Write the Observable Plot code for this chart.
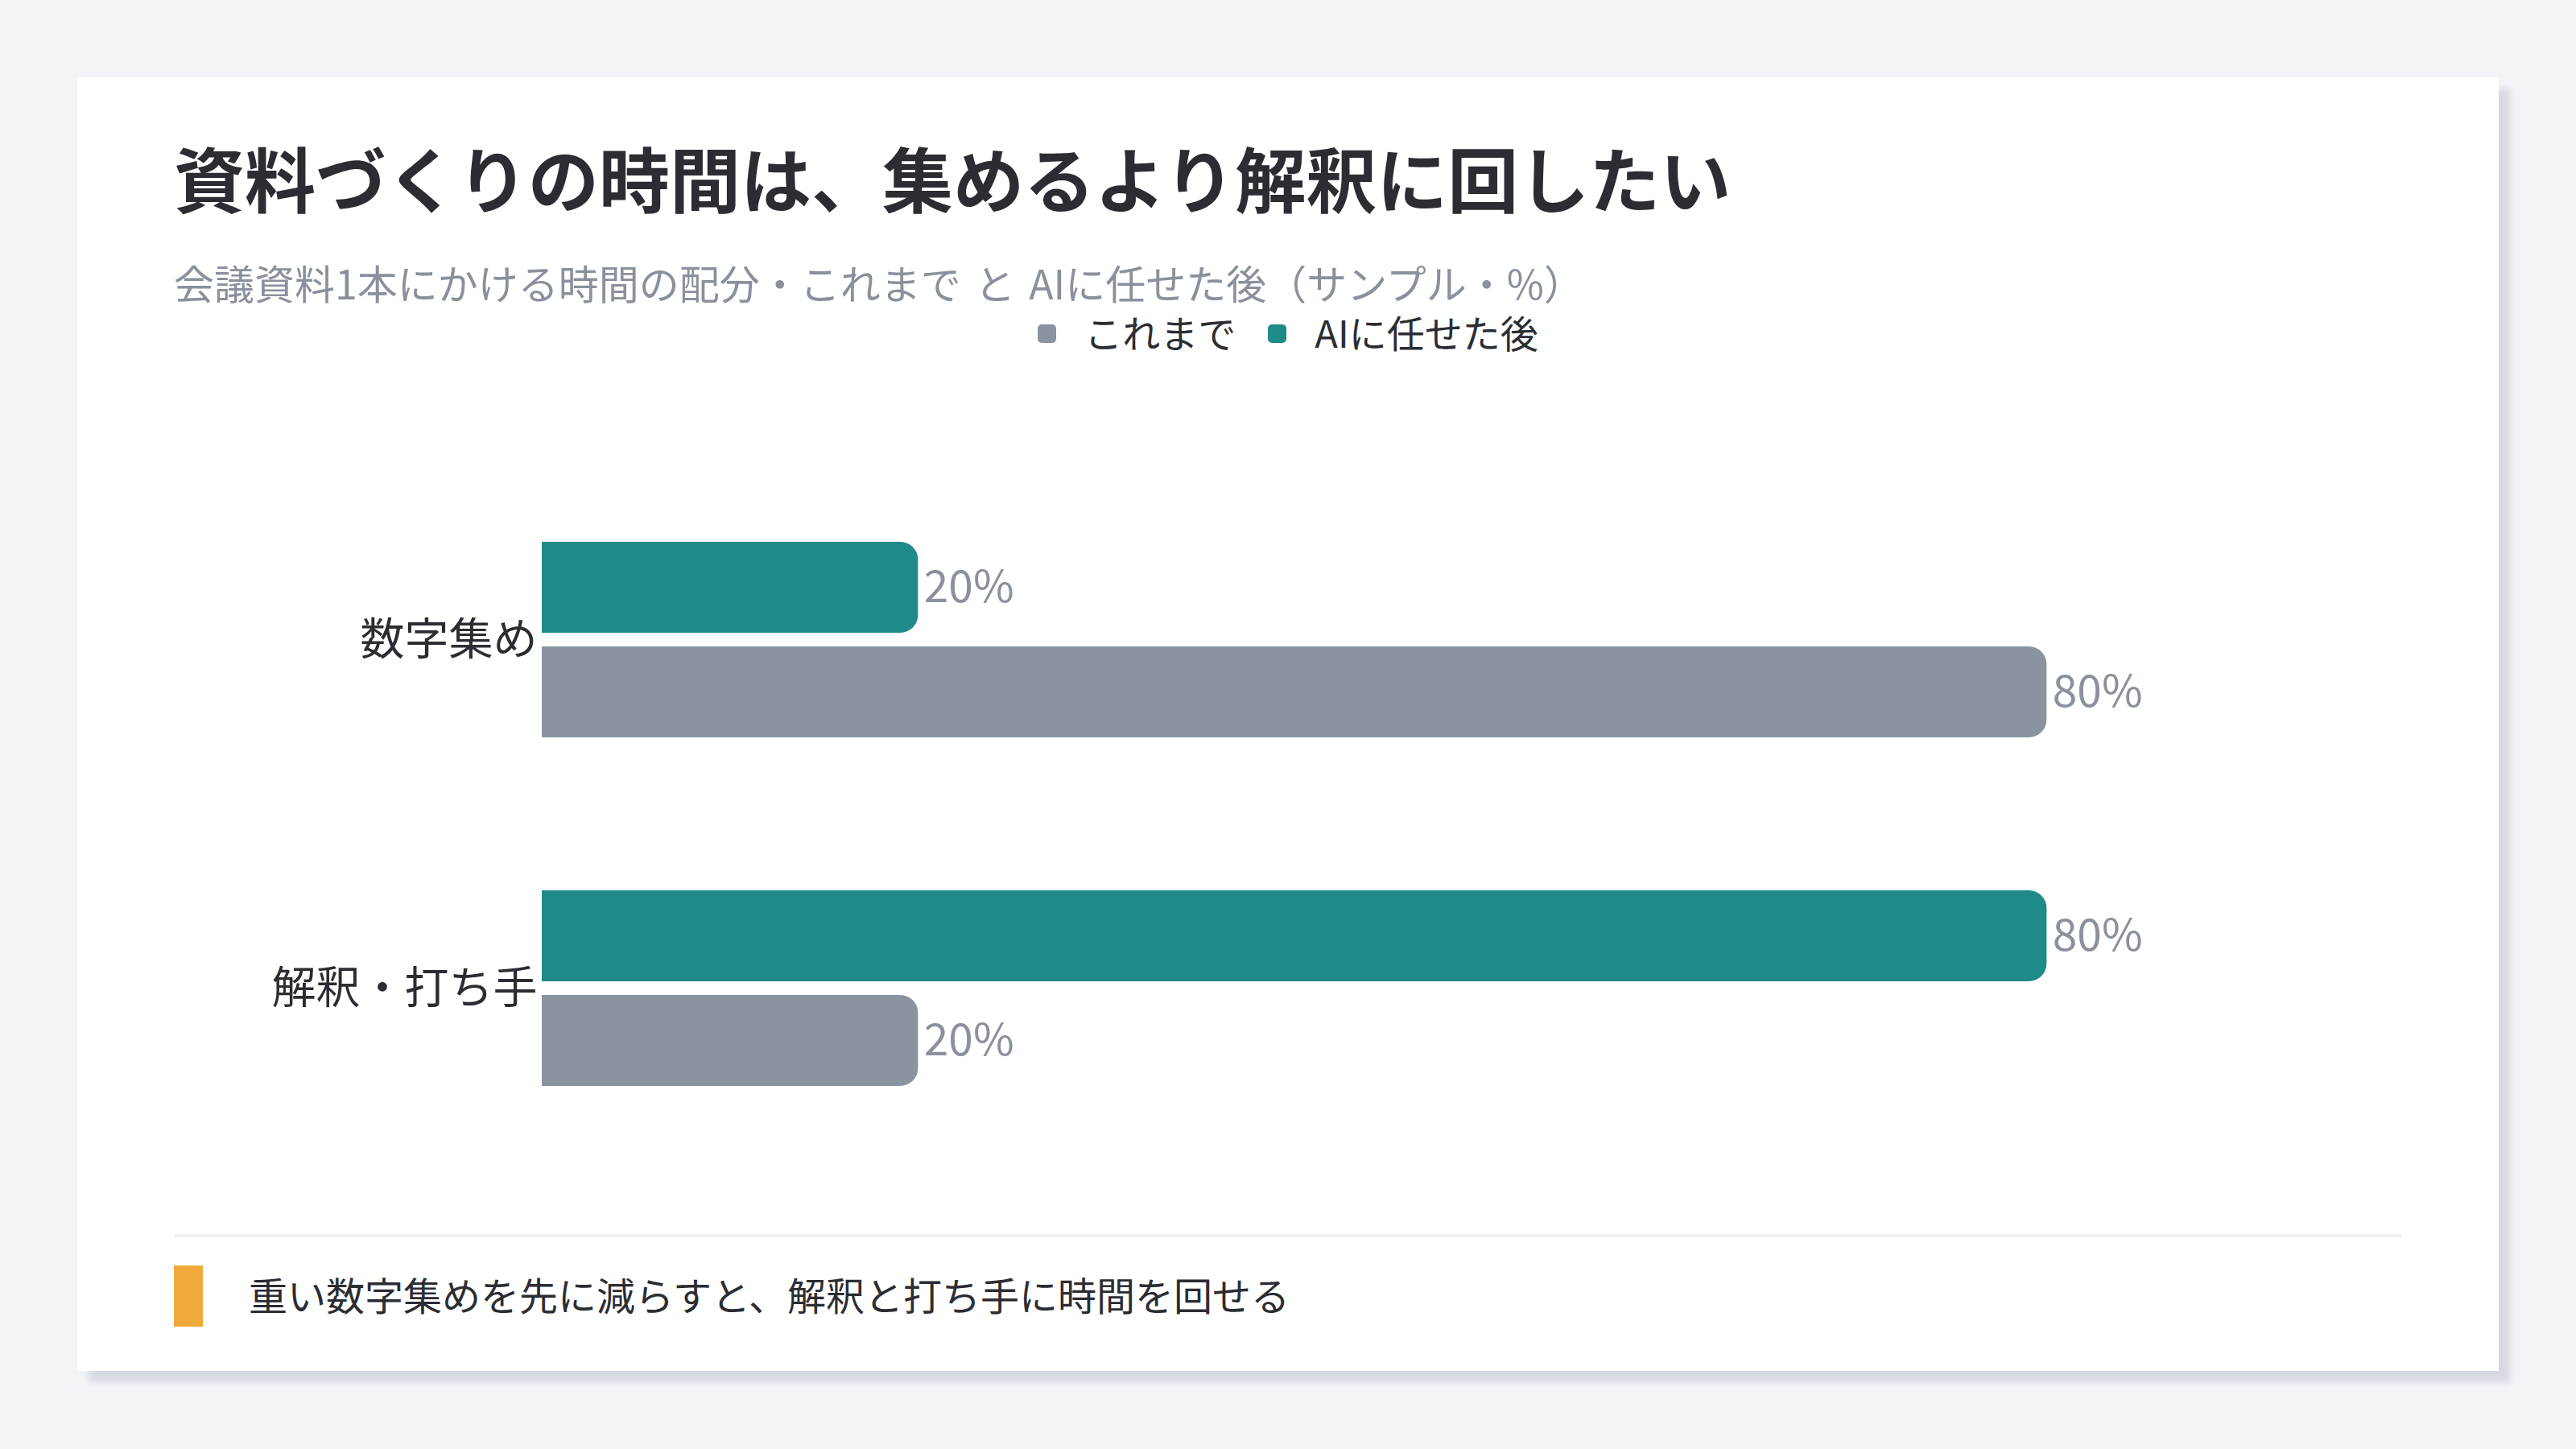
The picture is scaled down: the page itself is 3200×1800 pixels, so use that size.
<!DOCTYPE html>
<html><head><meta charset="utf-8">
<script src="https://cdn.jsdelivr.net/npm/d3@7"></script>
<script src="https://cdn.jsdelivr.net/npm/@observablehq/plot@0.6"></script>
<style>
html,body{margin:0;padding:0;background:#f3f4f8;}
body{width:3200px;height:1800px;position:relative;font-family:"Noto Sans CJK JP","Noto Sans",sans-serif;overflow:hidden;}
#card{position:absolute;left:96px;top:96px;width:3008px;height:1607px;background:#fff;box-shadow:14px 14px 8px rgba(170,177,192,0.4);}
.abs{position:absolute;left:120px;}
#title{top:73px;font-size:88px;font-weight:700;line-height:100px;color:#2b2d33;white-space:nowrap;}
#subtitle{top:224px;font-size:50px;line-height:60px;color:#8a919c;white-space:nowrap;word-spacing:6px;}
#legend{top:288px;width:2768px;display:flex;justify-content:center;align-items:center;font-size:47px;line-height:56px;color:#2b2d33;}
.sw{width:23px;height:23px;border-radius:5px;margin-right:35px;position:relative;top:2px;}
.item{display:flex;align-items:center;margin:0 20px;}
#chart{top:364px;width:2768px;height:1040px;}
#divider{top:1437px;width:2768px;height:4px;background:#eef0f3;}
#mark{top:1476px;width:36px;height:76px;background:#f0a93b;}
#note{top:1481px;left:213px;font-size:48px;line-height:60px;color:#2b2d33;white-space:nowrap;}
</style></head>
<body>
<div id="card">
  <div id="title" class="abs"></div>
  <div id="subtitle" class="abs"></div>
  <div id="legend" class="abs"></div>
  <div id="chart" class="abs"></div>
  <div id="divider" class="abs"></div>
  <div id="mark" class="abs"></div>
  <div id="note" class="abs"></div>
</div>
<script>
const titleText = "資料づくりの時間は、集めるより解釈に回したい";
const subtitleText = "会議資料1本にかける時間の配分・これまで と AIに任せた後（サンプル・%）";
const noteText = "重い数字集めを先に減らすと、解釈と打ち手に時間を回せる";
const categories = ["数字集め", "解釈・打ち手"];
const seriesNames = ["これまで", "AIに任せた後"];
const beforeValues = [80, 20];
const afterValues = [20, 80];
const seriesColors = ["#8a93a0", "#1f8a87"];

document.getElementById("title").textContent = titleText;
document.getElementById("subtitle").textContent = subtitleText;
document.getElementById("note").textContent = noteText;

const legend = document.getElementById("legend");
seriesNames.forEach((s, i) => {
  const item = document.createElement("div");
  item.className = "item";
  const sw = document.createElement("div");
  sw.className = "sw";
  sw.style.background = seriesColors[i];
  const label = document.createElement("span");
  label.textContent = s;
  item.appendChild(sw);
  item.appendChild(label);
  legend.appendChild(item);
});

const rows = categories.flatMap((c, i) => [
  {category: c, series: seriesNames[1], value: afterValues[i]},
  {category: c, series: seriesNames[0], value: beforeValues[i]}
]);

const chart = Plot.plot({
  width: 2768,
  height: 1040,
  marginTop: 213,
  marginBottom: 149,
  marginLeft: 457,
  marginRight: 208,
  x: {domain: [0, 90], axis: null},
  y: {domain: [seriesNames[1], seriesNames[0]], axis: null, paddingInner: 0.13, paddingOuter: 0},
  fy: {domain: categories, axis: "left", paddingInner: 0.4355, paddingOuter: 0, tickSize: 0, tickPadding: 6, label: null},
  color: {domain: seriesNames, range: seriesColors},
  style: {fontFamily: "'Noto Sans CJK JP', 'Noto Sans', sans-serif", fontSize: "55px", color: "#2b2d33", background: "transparent", overflow: "visible"},
  marks: [
    Plot.barX(rows, {x: "value", y: "series", fy: "category", fill: "series", rx: 22}),
    Plot.barX(rows, {x1: d => 0, x2: d => d.value / 2, y: "series", fy: "category", fill: "series"}),
    Plot.text(rows, {x: "value", y: "series", fy: "category", text: d => d.value + "%", textAnchor: "start", dx: 7, fontSize: 55, fill: "#8a919c"})
  ]
});
document.getElementById("chart").appendChild(chart);
</script>
</body></html>
